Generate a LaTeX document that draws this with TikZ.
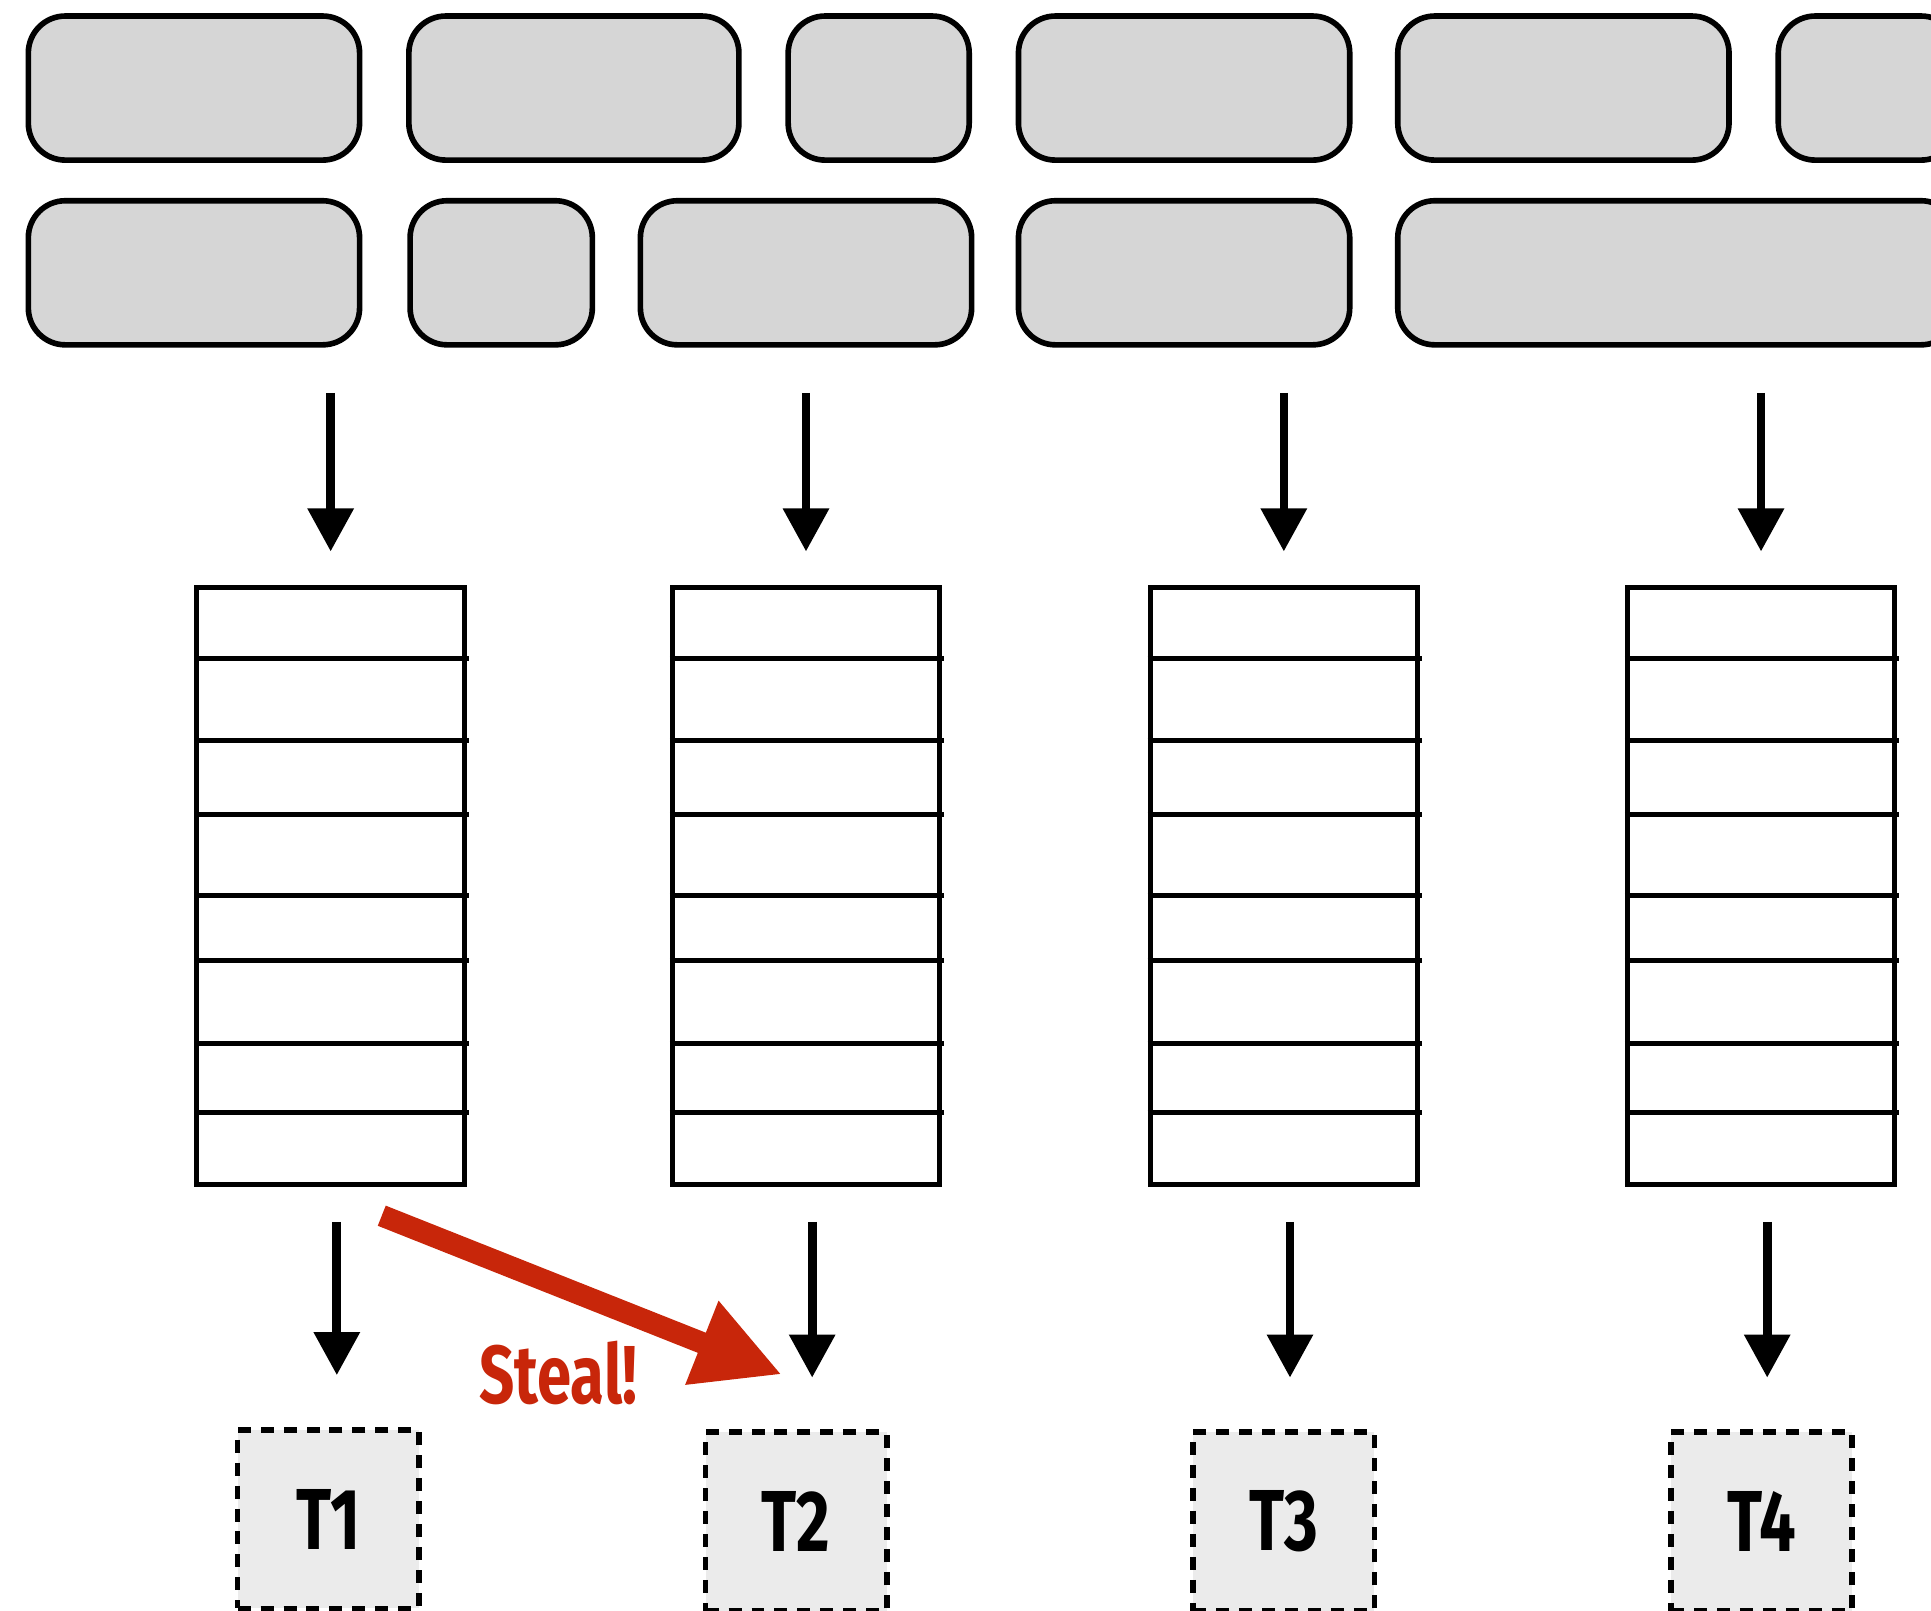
\documentclass[tikz,border=0pt]{standalone}
\usepackage{fontspec}
\newfontfamily\condfont[FakeStretch=0.75]{Fira Sans}
\usepackage{tikz}
\usetikzlibrary{arrows.meta, calc, positioning}
\definecolor{stealred}{RGB}{200,38,10}
\definecolor{taskgray}{RGB}{214,214,214}
\definecolor{workgray}{RGB}{235,235,235}

\begin{document}
\begin{tikzpicture}[x=0.01cm, y=-0.01cm,
    task/.style={draw, line width=1.3pt, fill=taskgray, rounded corners=0.3cm},
    queue/.style={draw, line width=1.15pt, minimum width=2.17cm, minimum height=4.85cm, inner sep=0pt},
    slot/.style={line width=1.15pt},
    feed/.style={line width=2pt, -{Triangle[length=0.35cm, width=0.36cm]}},
    worker/.style={draw, dash pattern=on 3pt off 2.3pt, line width=1.3pt, fill=workgray,
      minimum width=1.47cm, minimum height=1.45cm, inner sep=0pt,
      font=\condfont\bfseries\fontsize{20pt}{22pt}\selectfont},
    steal/.style={stealred, line width=5pt, -{Triangle[length=0.7cm, width=0.68cm]}}]
  \useasboundingbox (0,0) rectangle (1568,1308);
  \clip (0,0) rectangle (1568,1308);

  \foreach \a/\b in {23/292, 332/600, 640/787, 827/1096, 1135/1404, 1444/1590}
    \draw[task] (\a,13) rectangle (\b,130);
  \foreach \a/\b in {23/292, 333/481, 520/789, 827/1096, 1135/1590}
    \draw[task] (\a,163) rectangle (\b,280);

  \foreach \i/\x in {1/268.5, 2/654.5, 3/1042.5, 4/1430} {
    \node[queue] (q\i) at (\x,719.5) {};
    \foreach \y in {535,601,661,727,780,847,903}
      \draw[slot] (q\i.west |- 0,\y) -- ([xshift=0.015cm]q\i.east |- 0,\y);
    \coordinate (s\i) at (\x,319);
    \draw[feed, shorten >=0.27cm] (s\i) -- (q\i.north);
  }

  \node[worker] (t1) at (266.5,1233.5) {T1};
  \node[worker] (t2) at (646.5,1235.5) {T2};
  \node[worker] (t3) at (1042.5,1235.5) {T3};
  \node[worker] (t4) at (1430.5,1235.5) {T4};

  \foreach \i in {1,...,4}
    \draw[feed, shorten <=0.28cm, shorten >=0.42cm]
      ([xshift=0.05cm]q\i.south) -- ([xshift=0.05cm]q\i.south |- t\i.north);

  \draw[steal] ($(q1.south)+(41.5,23)$) -- ($(t2.north)+(-11.5,-44.5)$);
  \node[text=stealred, font=\condfont\bfseries\fontsize{19pt}{21pt}\selectfont]
    (lbl) at (453.5,1115) {Steal!};
\end{tikzpicture}
\end{document}
